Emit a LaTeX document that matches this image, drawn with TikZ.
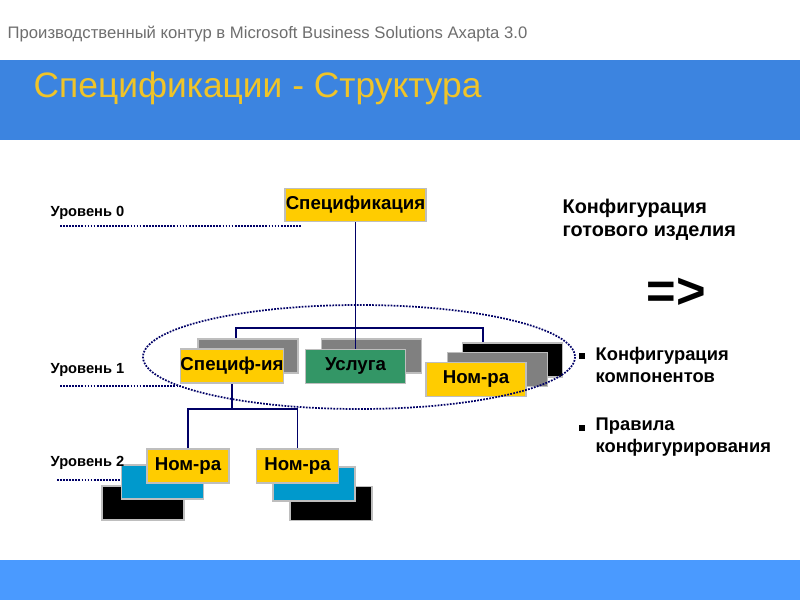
\documentclass[tikz,border=0pt]{standalone}
\usepackage{fontspec}
\setmainfont{Liberation Sans}
\definecolor{bandblue}{RGB}{60,132,224}
\definecolor{footblue}{RGB}{74,154,255}
\definecolor{titleyellow}{RGB}{240,196,40}
\definecolor{headgray}{RGB}{110,110,110}
\definecolor{boxyellow}{RGB}{255,204,0}
\definecolor{boxgreen}{RGB}{51,150,102}
\definecolor{boxgray}{RGB}{128,128,128}
\definecolor{boxblue}{RGB}{0,153,204}
\definecolor{boxedge}{RGB}{190,190,190}
\definecolor{wirenavy}{RGB}{0,0,102}
\begin{document}
\begin{tikzpicture}[x=0.75pt,y=-0.75pt,
  every node/.style={font=\bfseries\fontsize{14}{16}\selectfont},
  box/.style={draw=boxedge,line width=1.2pt,inner sep=0pt,minimum width=75pt,minimum height=25.5pt},
  smallbox/.style={box,minimum width=61.5pt},
  wire/.style={draw=wirenavy,line width=1.4pt},
  levelline/.style={draw=wirenavy,line width=1.3pt,dash pattern=on 1.3pt off 1pt}]
  \useasboundingbox (0,0) rectangle (800,600);

  % Bands
  \fill[bandblue] (0,60) rectangle (800,140);
  \fill[footblue] (0,560) rectangle (800,600);
  \node[anchor=west,font=\fontsize{12.5}{14}\selectfont,text=headgray] (head) at (3,34) {Производственный контур в Microsoft Business Solutions Axapta 3.0};
  \node[anchor=west,font=\fontsize{26.5}{30}\selectfont,text=titleyellow] (title) at (29,88) {Спецификации - Структура};

  % Level 0
  \node[box,fill=boxyellow,minimum width=105.75pt,minimum height=24.75pt] (spec) at (355.5,205) {Спецификация};

  % Level 1
  \node[box,fill=boxgray] (sp1s) at (248,356) {};
  \node[box,fill=boxyellow] (sp1) at (232,366) {Специф-ия};
  \node[box,fill=boxgray] (usls) at (371.5,356) {};
  \node[box,fill=boxgreen] (usl) at (355.5,366.5) {Услуга};
  \node[box,fill=black] (n1b) at (512.5,360) {};
  \node[box,fill=boxgray] (n1g) at (497.5,369.5) {};
  \node[box,fill=boxyellow] (nom1) at (476,379.5) {Ном-ра};

  % Level 2
  \node[smallbox,fill=black] (n2ab) at (143,503) {};
  \node[smallbox,fill=boxblue] (n2ag) at (162.5,482) {};
  \node[smallbox,fill=boxyellow] (nomA) at (188,466) {Ном-ра};
  \node[smallbox,fill=black] (n2bb) at (331,503.5) {};
  \node[smallbox,fill=boxblue] (n2bg) at (314,484) {};
  \node[smallbox,fill=boxyellow] (nomB) at (297.5,466) {Ном-ра};

  % Tree lines
  \coordinate (bus1) at (355.5,328);
  \coordinate (bus2) at (232,409);
  \draw[wire] (spec.south) -- (usl.north);
  \draw[wire] ([xshift=-9pt]sp1s.north) |- (bus1) -| ([xshift=-22pt]n1b.north);
  \draw[wire] (sp1.south) -- (bus2);
  \draw[wire] (nomA.north) |- (bus2) -| (nomB.north);

  % Group of level 1
  \draw[levelline] (359,357) ellipse [x radius=216,y radius=52];

  % Levels
  \node[anchor=west,font=\bfseries\fontsize{11}{13}\selectfont] (lev0) at (46,213) {Уровень 0};
  \node[anchor=west,font=\bfseries\fontsize{11}{13}\selectfont] (lev1) at (46,370) {Уровень 1};
  \node[anchor=west,font=\bfseries\fontsize{11}{13}\selectfont] (lev2) at (46,463) {Уровень 2};
  \coordinate (l0s) at (60,226);
  \coordinate (l0e) at (302,226);
  \coordinate (l1s) at (60,386);
  \coordinate (l2s) at (57,480);
  \draw[levelline] (l0s) -- (l0e);
  \draw[levelline] (l1s) -- (sp1.south west |- l1s);
  \draw[levelline] (l2s) -- (n2ag.west |- l2s);

  % Right side text
  \node[anchor=north west,align=left,font=\bfseries\fontsize{14.9}{17.25}\selectfont] (conf) at (558,194) {Конфигурация\\готового изделия};
  \node[font=\bfseries\fontsize{38}{38}\selectfont] (impl) at (676,293) {=>};
  \node[fill=black,inner sep=0pt,minimum size=4pt] (sq1) at (582,356) {};
  \node[anchor=west,align=left,font=\bfseries\fontsize{13.75}{16.5}\selectfont] (b1) at (591,365) {Конфигурация\\компонентов};
  \node[fill=black,inner sep=0pt,minimum size=4pt] (sq2) at (582,428) {};
  \node[anchor=west,align=left,font=\bfseries\fontsize{13.75}{16.5}\selectfont] (b2) at (591,437) {Правила\\конфигурирования};
\end{tikzpicture}
\end{document}
